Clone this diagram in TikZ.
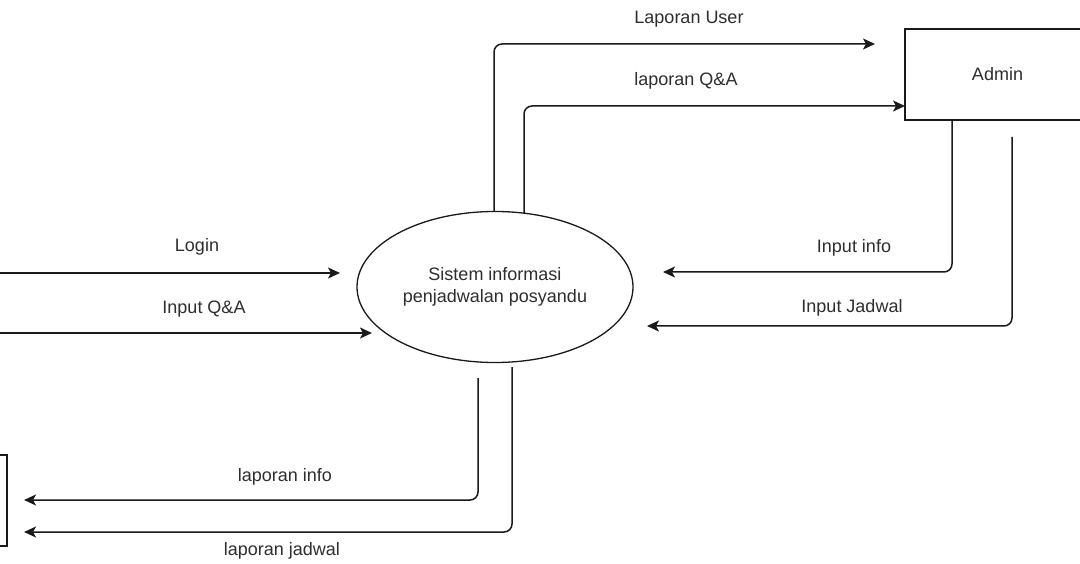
\documentclass[tikz,border=0pt]{standalone}
\usepackage{fontspec}
\setmainfont{Liberation Sans}
\usetikzlibrary{shapes.geometric,arrows.meta}
\definecolor{linec}{HTML}{1A1A1A}
\definecolor{txtc}{HTML}{2E2E2E}
\begin{document}
\begin{tikzpicture}[x=1pt,y=-1pt,
  flow/.style={draw=linec,line width=1.5pt,rounded corners=8pt,-{Stealth[length=12pt,width=11pt,inset=3pt]}},
  lbl/.style={text=txtc,font=\fontsize{18}{21.5}\selectfont,inner sep=0pt},
  entity/.style={draw=linec,line width=1.4pt,rectangle,inner sep=0pt,minimum width=185pt,minimum height=91pt}]
\useasboundingbox (0,0) rectangle (1080,564);
\clip (0,0) rectangle (1080,564);
\fill[white] (0,0) rectangle (1080,564);

\node[ellipse,draw=linec,line width=1.3pt,minimum width=276pt,minimum height=151pt,align=center,lbl] (sys) at (495,287) {Sistem informasi\\[0.5pt]penjadwalan posyandu};
\node[entity,lbl] (admin) at (997.5,74.5) {Admin};
\node[entity] (user) at (-85.5,500.5) {};

% free ends
\coordinate (inA) at (0,273);   \coordinate (inAe) at (340,273);
\coordinate (inB) at (0,333);   \coordinate (inBe) at (372,333);
\coordinate (t1s) at (494,212); \coordinate (t1e) at (875,44);
\coordinate (t2s) at (524,213.5); \coordinate (t2e) at (905,106);
\coordinate (r1s) at (952,120); \coordinate (r1e) at (663,272);
\coordinate (r2s) at (1012,137); \coordinate (r2e) at (647,326);
\coordinate (b1s) at (478,378); \coordinate (b1e) at (24,500);
\coordinate (b2s) at (512,367); \coordinate (b2e) at (24,532);

\draw[flow] (inA) -- (inAe);
\draw[flow] (inB) -- (inBe);
\draw[flow] (t1s) |- (t1e);
\draw[flow] (t2s) |- (t2e);
\draw[flow] (r1s) |- (r1e);
\draw[flow] (r2s) |- (r2e);
\draw[flow] (b1s) |- (b1e);
\draw[flow] (b2s) |- (b2e);

\node[lbl] (lUser) at (689,19) {Laporan User};
\node[lbl] (lQA) at (686,81) {laporan Q\&A};
\node[lbl] (lLogin) at (197,247) {Login};
\node[lbl] (lInQA) at (204,309) {Input Q\&A};
\node[lbl] (lInfo) at (854,248) {Input info};
\node[lbl] (lJadwal) at (852,308) {Input Jadwal};
\node[lbl] (lLapInfo) at (285,477) {laporan info};
\node[lbl] (lLapJadwal) at (282,551) {laporan jadwal};
\end{tikzpicture}
\end{document}
